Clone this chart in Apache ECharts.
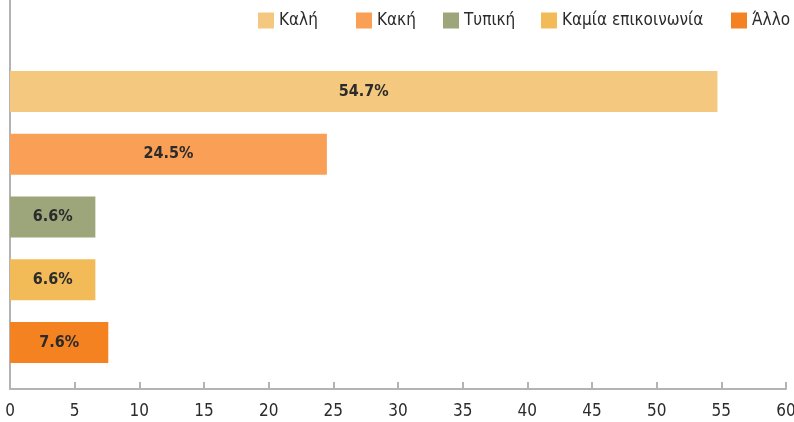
<!DOCTYPE html>
<html>
<head>
<meta charset="utf-8">
<script src="https://cdn.jsdelivr.net/npm/echarts@6/dist/echarts.min.js"></script>
<style>
  html, body { margin: 0; padding: 0; background: #fff; }
  #chart { width: 794px; height: 422px; }
</style>
</head>
<body>
<div id="chart"></div>
<script>
    // categories top to bottom
    const categories = ['Καλή', 'Κακή', 'Τυπική', 'Καμία επικοινωνία', 'Άλλο'];
    const values = [54.7, 24.5, 6.6, 6.6, 7.6];
    const palette = ['#F4C97F', '#F99F56', '#9DA67B', '#F2BB58', '#F48221'];
    // left edge of each legend entry (the legend isn't evenly spaced)
    const legendLeft = [258, 356, 443, 541, 731];

    const narrow = "'Liberation Sans Narrow', 'DejaVu Sans Condensed', Roboto, sans-serif";

    let chart = echarts.init(document.getElementById('chart'));

    // one series per category so the legend gets an entry each
    const series = categories.map((name, i) => ({
        name: name,
        type: 'bar',
        stack: 'all',
        barWidth: 41,
        xAxisIndex: 0,
        yAxisIndex: 0,
        itemStyle: { color: palette[i] },
        label: {
            show: true,
            position: 'inside',
            formatter: '{c}%',
            color: '#2b2b2b',
            fontFamily: narrow,
            fontWeight: 'bold',
            fontSize: 16
        },
        data: values.map((v, j) => (j === i ? v : '-'))
    }));

    const legends = categories.map((name, i) => ({
        data: [name],
        left: legendLeft[i],
        top: 12,
        padding: 0,
        itemWidth: 16,
        itemHeight: 16,
        icon: 'rect',
        textStyle: {
            fontFamily: narrow,
            fontSize: 17,
            color: '#2b2b2b'
        }
    }));

    const option = {
        animation: false,
        legend: legends,
        grid: [
            { left: 10, right: 8, top: 60, height: 314, outerBoundsMode: 'none' },
            { left: 10, right: 8, top: 0, height: 389, outerBoundsMode: 'none' }
        ],
        xAxis: [{
            type: 'value',
            gridIndex: 0,
            min: 0,
            max: 60,
            interval: 5,
            offset: 15,
            axisLine: { show: true, lineStyle: { color: '#b3b3b3', width: 2 } },
            axisTick: { show: true, inside: true, length: 7, lineStyle: { color: '#b3b3b3', width: 2 } },
            axisLabel: {
                margin: 14,
                color: '#2b2b2b',
                fontFamily: narrow,
                fontSize: 17
            },
            splitLine: { show: false }
        }, {
            type: 'value',
            gridIndex: 1,
            show: false
        }],
        yAxis: [{
            type: 'category',
            gridIndex: 0,
            inverse: true,
            data: categories,
            axisLine: { show: false },
            axisTick: { show: false },
            axisLabel: { show: false }
        }, {
            type: 'value',
            gridIndex: 1,
            axisLine: { show: true, lineStyle: { color: '#b3b3b3', width: 2 } },
            axisTick: { show: false },
            axisLabel: { show: false },
            splitLine: { show: false }
        }],
        series: series
    };

    chart.setOption(option);

    window.addEventListener('resize', function () {
        chart.resize();
    });
</script>
</body>
</html>
